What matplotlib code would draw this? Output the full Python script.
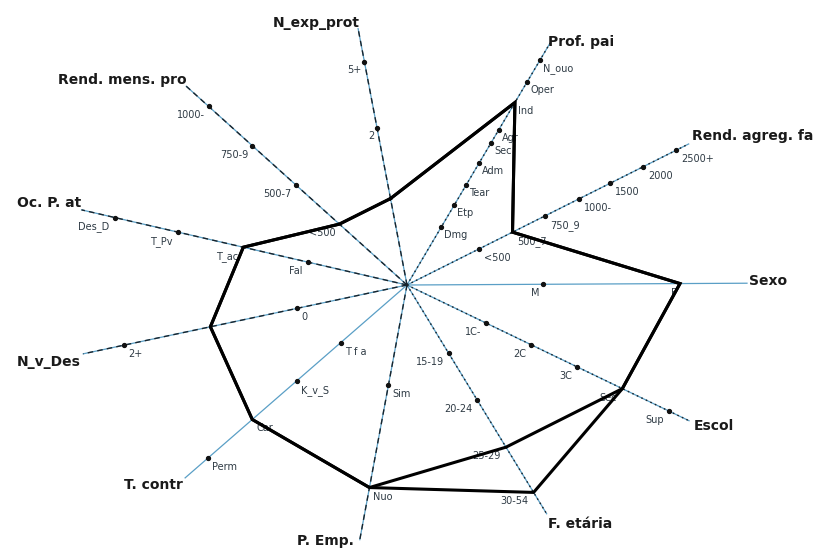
import numpy as np
import matplotlib
matplotlib.use("Agg")
from matplotlib import pyplot as plt

plt.rcParams["font.family"] = ["DejaVu Sans"]

# axes of the star diagram, in the order they are joined by the profile
axis_names = ["N_exp_prot", "Rend. mens. pro", "Oc. P. at", "N_v_Des", "T. contr",
              "P. Emp.", "F. etária", "Escol", "Sexo", "Rend. agreg. fa", "Prof. pai"]
axis_angles = [100.8, 138.0, 167.0, 192.0, 221.0, 259.5, 301.4, 334.3, 0.3, 26.6, 59.4]
axis_lengths = [261, 297, 334, 331, 294, 259, 268, 313, 340, 315, 281]

# categories along each axis (centre outwards) and their distance from the centre
cats_exp_prot = ["", "2", "5+"]
rad_exp_prot = [88, 160, 227]
cats_rend_mens = ["<500", "500-7", "750-9", "1000-"]
rad_rend_mens = [91, 150, 208, 267]
cats_oc_pat = ["Fal", "T_ac", "T_Pv", "Des_D"]
rad_oc_pat = [102, 168, 235, 300]
cats_nv_des = ["0", "", "2+"]
rad_nv_des = [112, 201, 289]
cats_t_contr = ["T f a", "K_v_S", "Car", "Perm"]
rad_t_contr = [88, 146, 205, 264]
cats_p_emp = ["Sim", "Nuo"]
rad_p_emp = [102, 206]
cats_f_etaria = ["15-19", "20-24", "25-29", "30-54"]
rad_f_etaria = [80, 135, 190, 243]
cats_escol = ["1C-", "2C", "3C", "Sec", "Sup"]
rad_escol = [88, 138, 189, 239, 291]
cats_sexo = ["M", "F"]
rad_sexo = [136, 273]
cats_rend_agreg = ["<500", "500_7", "750_9", "1000-", "1500", "2000", "2500+"]
rad_rend_agreg = [81, 118, 154, 192, 227, 264, 301]
cats_prof_pai = ["Dmg", "Etp", "Tear", "Adm", "Sec", "Agr", "Ind", "Oper", "N_ouo"]
rad_prof_pai = [67, 93, 116, 142, 165, 180, 212, 236, 261]

axis_cats = [cats_exp_prot, cats_rend_mens, cats_oc_pat, cats_nv_des, cats_t_contr,
             cats_p_emp, cats_f_etaria, cats_escol, cats_sexo, cats_rend_agreg, cats_prof_pai]
axis_radii = [rad_exp_prot, rad_rend_mens, rad_oc_pat, rad_nv_des, rad_t_contr,
              rad_p_emp, rad_f_etaria, rad_escol, rad_sexo, rad_rend_agreg, rad_prof_pai]

# chosen category on each axis for the two profiles
profile_a = [0, 0, 1, 1, 2, 1, 3, 3, 1, 1, 6]
profile_b = [0, 0, 1, 1, 2, 1, 2, 3, 1, 1, 6]

# drawing style per axis
dashed = (0, (4, 3))
dotted = (0, (1.2, 2.4))
line_styles = [dashed, dashed, dashed, dashed, "-", dashed, dotted, dotted, "-", dotted, dotted]
name_place = [("right", 2, 6), ("right", 0, 6), ("right", 0, 7), ("right", -3, -8),
              ("right", -2, -7), ("right", -6, -1), ("left", 1, -10), ("left", 5, -5),
              ("left", 2, 2), ("left", 3, 8), ("left", -2, 1)]
cat_place = [("right", -3, -3), ("right", -4, -4), ("right", -5, -4), ("left", 4, -4),
             ("left", 4, -4), ("left", 4, -4), ("right", -5, -4), ("right", -5, -4),
             ("right", -3, -4), ("left", 5, -4), ("left", 3, -3)]


def polar(r, ang):
    a = np.radians(ang)
    return np.asarray(r) * np.cos(a), np.asarray(r) * np.sin(a)


fig = plt.figure(figsize=(8.16, 5.5), dpi=100)
ax = fig.add_axes([0, 0, 1, 1])
ax.set_xlim(-407, 409)
ax.set_ylim(-265, 285)
ax.axis("off")

for i, name in enumerate(axis_names):
    ang = axis_angles[i]
    xe, ye = polar(axis_lengths[i], ang)
    ax.plot([0, xe], [0, ye], color="#5a9fc6", lw=0.9, zorder=1)
    if line_styles[i] != "-":
        ax.plot([0, xe], [0, ye], color="#18242c", lw=1.0, ls=line_styles[i], zorder=2)

    xs, ys = polar(axis_radii[i], ang)
    chosen = {profile_a[i], profile_b[i]}
    for k, lab in enumerate(axis_cats[i]):
        if k not in chosen:
            ax.plot(xs[k], ys[k], "o", ms=2.8, color="#111111", zorder=3)
        ha, dx, dy = cat_place[i]
        ax.annotate(lab, (xs[k], ys[k]), xytext=(dx, dy), textcoords="offset pixels",
                    ha=ha, va="top", fontsize=7, color="#2e3a44", zorder=4)

    ha, dx, dy = name_place[i]
    ax.annotate(name, (xe, ye), xytext=(dx, dy), textcoords="offset pixels",
                ha=ha, va="center", fontsize=10, fontweight="bold", color="#1a1a1a",
                zorder=4, annotation_clip=False)

for prof in (profile_a, profile_b):
    px, py = [], []
    for i, k in enumerate(prof):
        x, y = polar(axis_radii[i][k], axis_angles[i])
        px.append(x)
        py.append(y)
    px.append(px[0])
    py.append(py[0])
    ax.plot(px, py, color="black", lw=2.2, solid_joinstyle="miter", zorder=5)

fig.savefig("out.png", dpi=100, facecolor="white")
